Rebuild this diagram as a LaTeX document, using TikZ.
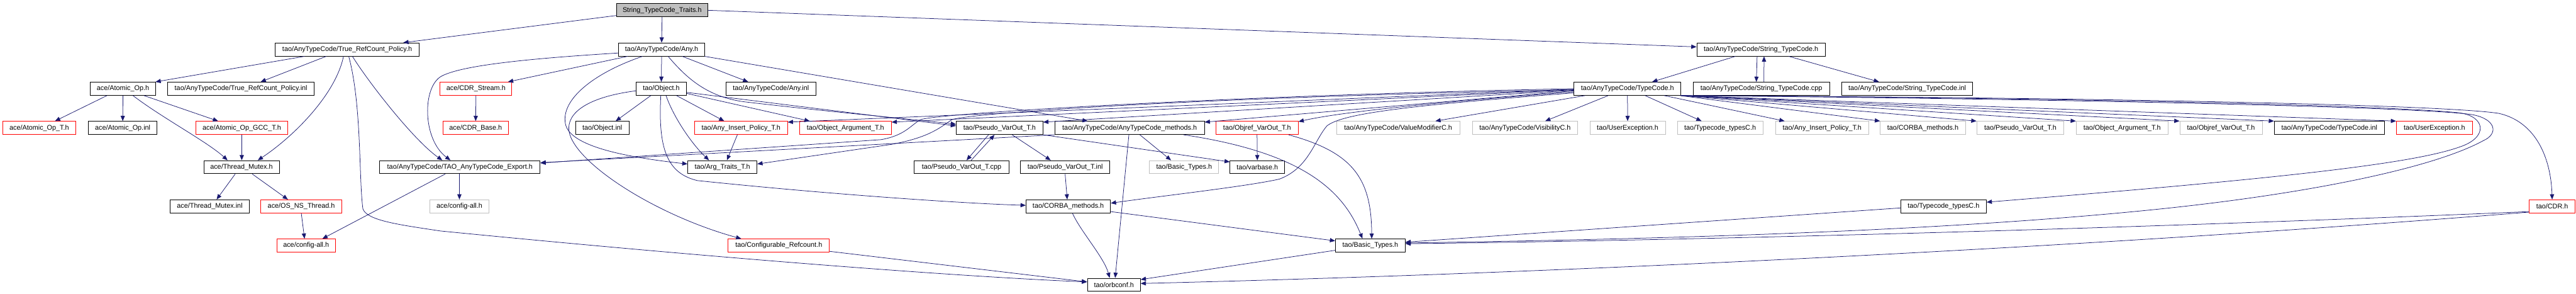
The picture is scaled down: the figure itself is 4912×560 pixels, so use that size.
\documentclass[tikz,border=0pt]{standalone}
\usepackage{fontspec}
\setmainfont{Liberation Sans}
\usetikzlibrary{arrows.meta}
\definecolor{navy}{HTML}{191970}
\definecolor{grey75}{HTML}{BFBFBF}
\begin{document}
\begin{tikzpicture}[x=1pt,y=-1pt,
  box/.style={draw=black, line width=1.1pt, minimum height=25pt, inner sep=0pt, fill=white, font=\fontsize{13}{15}\selectfont},
  redbox/.style={box, draw=red},
  greybox/.style={box, draw=grey75},
  dep/.style={draw=navy, line width=0.9pt, -{Triangle[length=10pt,width=8pt]}}]
\fill[white] (0,0) rectangle (4912,560);
\useasboundingbox (0,0) rectangle (4912,560);
% row 1
\node[box, fill=grey75, minimum width=174pt] (traits) at (1262.5,19.6) {String\_TypeCode\_Traits.h};
% row 2
\node[box, minimum width=275pt] (policy) at (662,94.3) {tao/AnyTypeCode/True\_RefCount\_Policy.h};
\node[box, minimum width=165pt] (any) at (1261.6,94.3) {tao/AnyTypeCode/Any.h};
\node[box, minimum width=245pt] (stc) at (3358,94.3) {tao/AnyTypeCode/String\_TypeCode.h};
% row 3
\node[box, minimum width=124pt] (atomic) at (234.5,169) {ace/Atomic\_Op.h};
\node[box, minimum width=280pt] (policyinl) at (459.5,169) {tao/AnyTypeCode/True\_RefCount\_Policy.inl};
\node[redbox, minimum width=137pt] (cdrstream) at (907.6,169) {ace/CDR\_Stream.h};
\node[box, minimum width=96pt] (object) at (1261,169) {tao/Object.h};
\node[box, minimum width=172pt] (anyinl) at (1470,169) {tao/AnyTypeCode/Any.inl};
\node[box, minimum width=204pt] (typecode) at (3103.3,169) {tao/AnyTypeCode/TypeCode.h};
\node[box, minimum width=260pt] (stccpp) at (3358.5,169) {tao/AnyTypeCode/String\_TypeCode.cpp};
\node[box, minimum width=250pt] (stcinl) at (3636.7,169) {tao/AnyTypeCode/String\_TypeCode.inl};
% row 4
\node[redbox, minimum width=139pt] (atomicT) at (74.8,243.7) {ace/Atomic\_Op\_T.h};
\node[box, minimum width=131pt] (atomicinl) at (234,243.7) {ace/Atomic\_Op.inl};
\node[redbox, minimum width=175pt] (atomicgcc) at (461,243.7) {ace/Atomic\_Op\_GCC\_T.h};
\node[redbox, minimum width=125pt] (cdrbase) at (907,243.7) {ace/CDR\_Base.h};
\node[box, minimum width=101.5pt] (objectinl) at (1148.5,243.7) {tao/Object.inl};
\node[redbox, minimum width=177pt] (anyins) at (1413,243.7) {tao/Any\_Insert\_Policy\_T.h};
\node[redbox, minimum width=175pt] (objarg) at (1612,243.7) {tao/Object\_Argument\_T.h};
\node[box, minimum width=165pt] (pseudo) at (1906,243.7) {tao/Pseudo\_VarOut\_T.h};
\node[box, minimum width=285pt] (atcm) at (2154,243.7) {tao/AnyTypeCode/AnyTypeCode\_methods.h};
\node[redbox, minimum width=157pt] (objref) at (2397,243.7) {tao/Objref\_VarOut\_T.h};
\node[greybox, minimum width=235pt] (valmod) at (2666,243.7) {tao/AnyTypeCode/ValueModifierC.h};
\node[greybox, minimum width=201pt] (visib) at (2908,243.7) {tao/AnyTypeCode/VisibilityC.h};
\node[greybox, minimum width=144pt] (userexg) at (3103.6,243.7) {tao/UserException.h};
\node[greybox, minimum width=163pt] (tctypesg) at (3280,243.7) {tao/Typecode\_typesC.h};
\node[greybox, minimum width=178pt] (anyinsg) at (3474.5,243.7) {tao/Any\_Insert\_Policy\_T.h};
\node[greybox, minimum width=162pt] (corbag) at (3666.5,243.7) {tao/CORBA\_methods.h};
\node[greybox, minimum width=166pt] (pseudog) at (3852.4,243.7) {tao/Pseudo\_VarOut\_T.h};
\node[greybox, minimum width=175pt] (objargg) at (4046.4,243.7) {tao/Object\_Argument\_T.h};
\node[greybox, minimum width=157pt] (objrefg) at (4235,243.7) {tao/Objref\_VarOut\_T.h};
\node[box, minimum width=210pt] (tcinl) at (4441.7,243.7) {tao/AnyTypeCode/TypeCode.inl};
\node[redbox, minimum width=145pt] (userexr) at (4642,243.7) {tao/UserException.h};
% row 5
\node[box, minimum width=144pt] (mutex) at (460.5,318.4) {ace/Thread\_Mutex.h};
\node[box, minimum width=306pt] (export) at (877,318.4) {tao/AnyTypeCode/TAO\_AnyTypeCode\_Export.h};
\node[box, minimum width=132pt] (argtraits) at (1377.5,318.4) {tao/Arg\_Traits\_T.h};
\node[box, minimum width=180pt] (pseudocpp) at (1833.5,318.4) {tao/Pseudo\_VarOut\_T.cpp};
\node[box, minimum width=171pt] (pseudoinl) at (2031,318.4) {tao/Pseudo\_VarOut\_T.inl};
\node[greybox, minimum width=132pt] (basicg) at (2258,318.4) {tao/Basic\_Types.h};
\node[box, minimum width=104pt] (varbase) at (2397.5,318.4) {tao/varbase.h};
% row 6
\node[box, minimum width=151pt] (mutexinl) at (400,393.1) {ace/Thread\_Mutex.inl};
\node[redbox, minimum width=154pt] (osns) at (574.5,393.1) {ace/OS\_NS\_Thread.h};
\node[greybox, minimum width=112pt] (configg) at (876,393.1) {ace/config-all.h};
\node[box, minimum width=161pt] (corba) at (2037,393.1) {tao/CORBA\_methods.h};
\node[box, minimum width=163pt] (tctypes) at (3706,393.1) {tao/Typecode\_typesC.h};
\node[redbox, minimum width=87pt] (cdr) at (4866.5,393.1) {tao/CDR.h};
% row 7
\node[redbox, minimum width=112pt] (configr) at (583.7,467.8) {ace/config-all.h};
\node[redbox, minimum width=193pt] (confref) at (1485,467.8) {tao/Configurable\_Refcount.h};
\node[box, minimum width=133pt] (basic) at (2613,467.8) {tao/Basic\_Types.h};
% row 8
\node[box, minimum width=101pt] (orbconf) at (2124,542.5) {tao/orbconf.h};

% --- String_TypeCode_Traits.h
\draw[dep] (traits.south) -- (any.north);
\draw[dep] ([yshift=-10pt]traits.west) -- ([xshift=107pt]policy.north);
\draw[dep] (traits.east) -- ([yshift=5pt]stc.west);
% --- True_RefCount_Policy.h
\draw[dep] ([xshift=-81.4pt]policy.south) -- ([xshift=62pt]atomic.north);
\draw[dep] ([xshift=-40pt]policy.south) -- ([xshift=37.5pt]policyinl.north);
\draw[dep] ([xshift=-7pt]policy.south) .. controls (640,180) and (560,260) .. ([xshift=31pt]mutex.north);
\draw[dep] ([xshift=10pt]policy.south) .. controls (705,160) and (790,268) .. ([xshift=-33.5pt]export.north);
\draw[dep] ([xshift=3pt]policy.south) .. controls (690,200) and (684,340) .. (692,398) .. controls (700,420) and (760,428) .. (840,440) .. controls (1400,495) and (1850,528) .. ([yshift=5.5pt]orbconf.west);
% --- Atomic_Op.h
\draw[dep] ([xshift=-30.5pt]atomic.south) -- ([xshift=30pt]atomicT.north);
\draw[dep] (atomic.south) -- (atomicinl.north);
\draw[dep] ([xshift=19pt]atomic.south) .. controls (310,225) and (395,270) .. ([xshift=-26.5pt]mutex.north);
\draw[dep] ([xshift=40pt]atomic.south) -- ([xshift=-45pt]atomicgcc.north);
\draw[dep] (atomicgcc.south) -- ([xshift=0.5pt]mutex.north);
\draw[dep] ([xshift=-12pt]mutex.south) -- ([xshift=13pt]mutexinl.north);
\draw[dep] ([xshift=20.5pt]mutex.south) -- ([xshift=-25.5pt]osns.north);
\draw[dep] (osns.south) -- ([xshift=-3pt]configr.north);
\draw[dep] ([xshift=-28pt]export.south) -- ([xshift=31pt]configr.north);
\draw[dep] ([xshift=-1pt]export.south) -- (configg.north);
% --- Any.h
\draw[dep] ([xshift=-65pt]any.south) -- ([xshift=61pt]cdrstream.north);
\draw[dep] (cdrstream.south) -- (cdrbase.north);
\draw[dep] (any.south) -- (object.north);
\draw[dep] ([xshift=39.4pt]any.south) -- ([xshift=-43.3pt]anyinl.north);
\draw[dep] ([yshift=-6.7pt]any.west) .. controls (1000,112) and (880,125) .. (842,145) .. controls (805,165) and (805,265) .. ([xshift=-18pt]export.north);
\draw[dep] ([xshift=-36.6pt]any.south) .. controls (1130,140) and (1070,190) .. (1078,235) .. controls (1085,280) and (1200,300) .. ([yshift=6pt]argtraits.west);
\draw[dep] ([xshift=12.4pt]any.south) .. controls (1310,150) and (1350,185) .. (1420,194) .. controls (1600,215) and (1750,228) .. ([yshift=7pt]pseudo.west);
\draw[dep] ([xshift=-1pt]any.south east) -- ([xshift=-80pt]atcm.north);
% --- Object.h
\draw[dep] ([yshift=-4pt]object.west) .. controls (1120,185) and (1080,215) .. (1085,250) .. controls (1095,310) and (1250,410) .. ([xshift=-71.5pt]confref.north);
\draw[dep] ([xshift=-20pt]object.south) -- ([xshift=25.5pt]objectinl.north);
\draw[dep] ([xshift=9pt]object.south) .. controls (1285,225) and (1320,275) .. ([xshift=-25.5pt]argtraits.north);
\draw[dep] ([xshift=29pt]object.south) -- ([xshift=-32pt]anyins.north);
\draw[dep] ([yshift=-9pt]object.east) -- ([xshift=-68pt]objarg.north);
\draw[dep] ([yshift=-7pt]object.east) -- ([yshift=4pt]pseudo.west);
\draw[dep] ([xshift=-1pt]object.south) .. controls (1255,280) and (1270,330) .. (1330,344) .. controls (1600,372) and (1850,388) .. ([yshift=2pt]corba.west);
\draw[dep] ([xshift=-7pt]anyins.south) -- ([xshift=8.5pt]argtraits.north);
% --- Pseudo_VarOut_T.h
\draw[dep] ([xshift=-21pt]pseudo.south) -- ([xshift=9.5pt]pseudocpp.north);
\draw[dep] ([xshift=18.3pt]pseudocpp.north) -- ([xshift=-9.6pt]pseudo.south);
\draw[dep] ([xshift=24pt]pseudo.south) -- ([xshift=-27.4pt]pseudoinl.north);
\draw[dep] (pseudo.south east) -- ([yshift=10pt]varbase.west);
\draw[dep] (pseudoinl.south) -- ([xshift=-2pt]corba.north);
\draw[dep] ([xshift=8pt]corba.south) .. controls (2060,440) and (2105,490) .. ([xshift=-8pt]orbconf.north);
\draw[dep] ([yshift=-10pt]corba.east) -- ([yshift=9pt]basic.west);
% --- AnyTypeCode_methods.h
\draw[dep] ([xshift=-1.4pt]atcm.south) -- ([xshift=2.4pt]orbconf.north);
\draw[dep] ([xshift=19.5pt]atcm.south) -- ([xshift=-25pt]basicg.north);
\draw[dep] ([xshift=103pt]atcm.south) .. controls (2480,290) and (2560,360) .. ([xshift=-15pt]basic.north);
\draw[dep] (atcm.south west) -- ([yshift=8.5pt]export.east);
% --- Objref_VarOut_T.h
\draw[dep] (objref.south) -- (varbase.north);
\draw[dep] ([xshift=60pt]objref.south) .. controls (2580,290) and (2615,340) .. ([xshift=2.6pt]basic.north);
% --- String_TypeCode.h
\draw[dep] ([xshift=-49pt]stc.south) -- ([xshift=47pt]typecode.north);
\draw[dep] ([xshift=-7.5pt]stc.south) -- ([xshift=-9.5pt]stccpp.north);
\draw[dep] ([xshift=5pt]stccpp.north) -- ([xshift=5.7pt]stc.south);
\draw[dep] ([xshift=53pt]stc.south) -- ([xshift=-53.7pt]stcinl.north);
% --- TypeCode.h, downwards and to the right
\draw[dep] ([xshift=-81pt]typecode.south) -- ([xshift=71pt]valmod.north);
\draw[dep] ([xshift=-36.7pt]typecode.south) -- ([xshift=38.4pt]visib.north);
\draw[dep] (typecode.south) -- (userexg.north);
\draw[dep] ([xshift=33.7pt]typecode.south) -- ([xshift=-35.4pt]tctypesg.north);
\draw[dep] ([xshift=70pt]typecode.south) -- ([xshift=18pt]anyinsg.north west);
\draw[dep] ([xshift=-3pt]typecode.south east) -- (corbag.north west);
\draw[dep] ([xshift=-1pt]typecode.south east) -- (pseudog.north west);
\draw[dep] (typecode.south east) -- (objargg.north west);
\draw[dep] (typecode.south east) -- (objrefg.north west);
\draw[dep] (typecode.south east) -- (tcinl.north west);
\draw[dep] (typecode.south east) -- (userexr.north west);
\draw[dep] (typecode.south east) .. controls (3900,186) and (4550,200) .. (4690,215) .. controls (4740,222) and (4745,262) .. (4690,280) .. controls (4600,312) and (4350,340) .. ([yshift=8pt]tctypes.east);
\draw[dep] (typecode.south east) .. controls (3900,188) and (4600,203) .. (4712,218) .. controls (4760,226) and (4765,255) .. (4735,268) .. controls (4640,320) and (4400,370) .. (4100,400) .. controls (3700,440) and (3200,455) .. ([yshift=5pt]basic.east);
\draw[dep] (typecode.south east) .. controls (3900,185) and (4650,198) .. (4765,216) .. controls (4835,232) and (4864,300) .. (cdr.north);
% --- TypeCode.h, to the left
\draw[dep] ([yshift=-6pt]typecode.west) .. controls (2700,198) and (2550,215) .. ([yshift=-1pt]objref.north east);
\draw[dep] ([yshift=-4pt]typecode.west) -- ([yshift=-2pt]atcm.north east);
\draw[dep] ([yshift=-3pt]typecode.west) -- ([yshift=-2pt]pseudo.north east);
\draw[dep] ([yshift=-2pt]typecode.west) -- ([yshift=-2pt]objarg.north east);
\draw[dep] ([yshift=-1pt]typecode.west) -- ([yshift=-2pt]anyins.north east);
\draw[dep] (typecode.west) .. controls (2400,180) and (1790,215) .. (1755,228) .. controls (1735,240) and (1725,258) .. (1680,266) -- ([yshift=7.8pt]export.east);
\draw[dep] ([yshift=-2pt]typecode.west) .. controls (2300,185) and (1850,215) .. (1815,228) .. controls (1790,245) and (1770,262) .. (1700,275) -- ([yshift=6pt]argtraits.east);
\draw[dep] ([yshift=-8pt]typecode.west) .. controls (2700,200) and (2560,215) .. (2530,240) .. controls (2505,270) and (2495,320) .. (2440,341) .. controls (2380,355) and (2200,375) .. ([yshift=6pt]corba.east);
% --- lower part
\draw[dep] ([yshift=-3pt]tctypes.west) -- ([yshift=6.5pt]basic.east);
\draw[dep] ([yshift=-10pt]cdr.west) .. controls (4000,438) and (3200,458) .. ([yshift=3.5pt]basic.east);
\draw[dep] ([yshift=-11pt]cdr.west) .. controls (4000,470) and (3000,520) .. ([yshift=2.5pt]orbconf.east);
\draw[dep] ([yshift=-9pt]basic.west) -- ([yshift=10pt]orbconf.east);
\draw[dep] ([yshift=-11pt]confref.east) -- ([yshift=5.5pt]orbconf.west);
\end{tikzpicture}
\end{document}
